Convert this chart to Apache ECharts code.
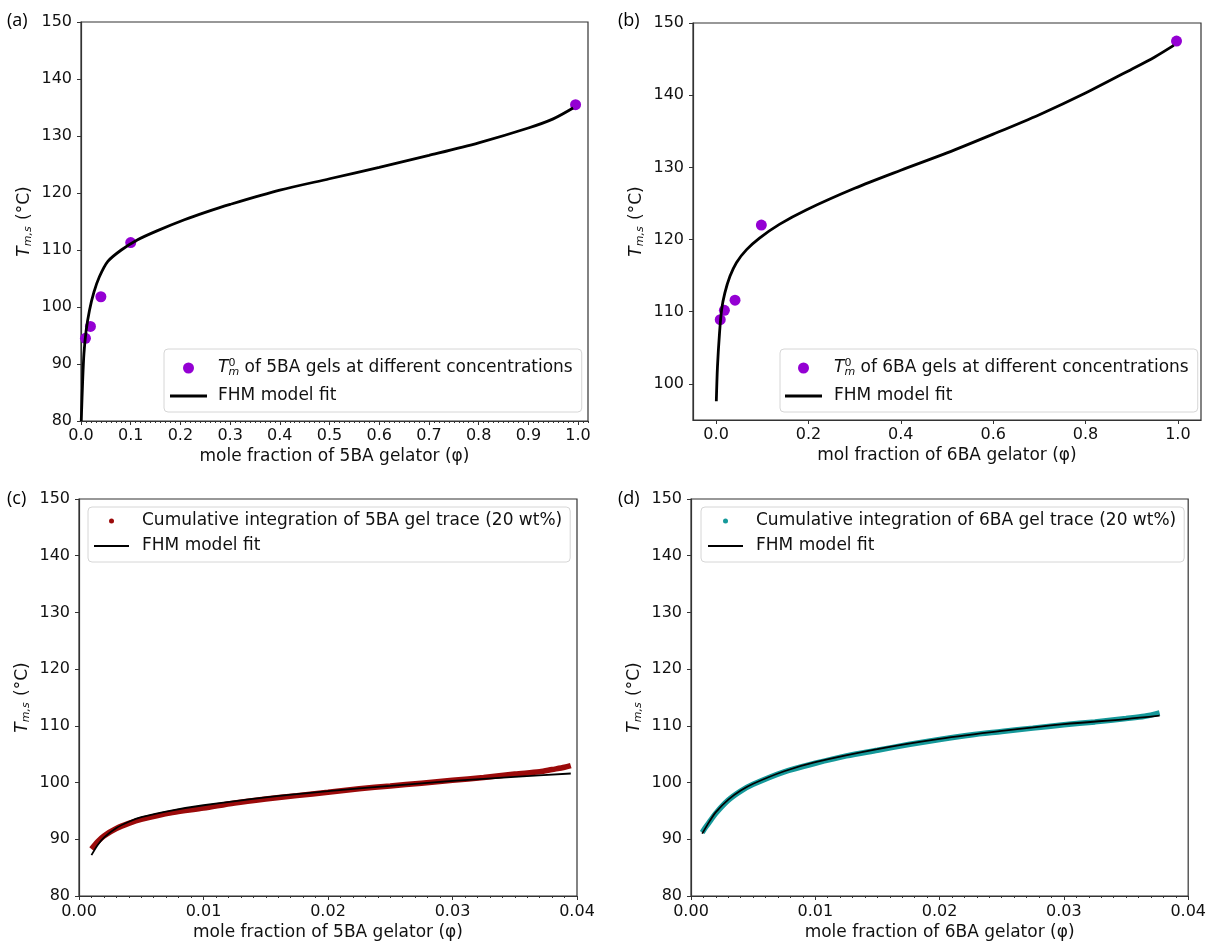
<!DOCTYPE html>
<html>
<head>
<meta charset="utf-8">
<script src="https://cdn.jsdelivr.net/npm/echarts@6/dist/echarts.min.js"></script>
<style>
html, body { margin: 0; padding: 0; background: #fff; }
#chart { width: 1209px; height: 942px; }
</style>
</head>
<body>
<div id="chart"></div>
<script>
// (a) 5BA gels, Tm0 points + FHM fit
var aPointX = [0.009, 0.019, 0.04, 0.1, 0.995];
var aPointY = [94.5, 96.6, 101.8, 111.3, 135.5];
var aFitX = [0.0005, 0.0034, 0.006, 0.0104, 0.017, 0.026, 0.037, 0.054, 0.081, 0.114, 0.154, 0.208, 0.25, 0.3, 0.4, 0.5, 0.6, 0.7, 0.8, 0.9, 0.95, 0.99];
var aFitY = [80.0, 87.2, 91.9, 95.9, 99.4, 102.6, 105.3, 108.0, 110.0, 111.8, 113.4, 115.3, 116.6, 118.0, 120.5, 122.5, 124.5, 126.6, 128.8, 131.4, 133.0, 134.9];

// (b) 6BA gels
var bPointX = [0.009, 0.018, 0.041, 0.098, 0.997];
var bPointY = [108.9, 110.2, 111.6, 122.0, 147.5];
var bFitX = [0.0005, 0.003, 0.0075, 0.012, 0.019, 0.03, 0.044, 0.066, 0.094, 0.137, 0.195, 0.3, 0.4, 0.5, 0.6, 0.7, 0.8, 0.9, 0.95, 0.991];
var bFitY = [97.6, 102.4, 107.1, 110.3, 112.6, 114.9, 116.8, 118.6, 120.2, 122.1, 124.1, 127.1, 129.6, 132.0, 134.6, 137.3, 140.3, 143.6, 145.3, 146.9];

// (c) 5BA gel trace, cumulative integration + fit
var cTraceX = [0.001, 0.0015, 0.002, 0.003, 0.004, 0.005, 0.0075, 0.01, 0.0125, 0.015, 0.0175, 0.02, 0.0225, 0.025, 0.0275, 0.03, 0.0325, 0.035, 0.037, 0.038, 0.039, 0.0395];
var cTraceY = [88.3, 89.6, 90.6, 91.9, 92.8, 93.5, 94.7, 95.5, 96.4, 97.1, 97.7, 98.3, 98.9, 99.4, 99.9, 100.4, 100.9, 101.5, 101.9, 102.3, 102.7, 103.0];
var cFitX = [0.001, 0.0015, 0.002, 0.003, 0.004, 0.005, 0.0075, 0.01, 0.015, 0.02, 0.025, 0.03, 0.035, 0.0395];
var cFitY = [87.2, 89.0, 90.3, 92.0, 93.1, 93.9, 95.1, 96.0, 97.4, 98.5, 99.4, 100.3, 101.0, 101.6];

// (d) 6BA gel trace
var dTraceX = [0.0009, 0.0012, 0.0015, 0.002, 0.003, 0.004, 0.005, 0.0075, 0.01, 0.0125, 0.015, 0.0175, 0.02, 0.0225, 0.025, 0.0275, 0.03, 0.0325, 0.035, 0.0365, 0.0377];
var dTraceY = [91.2, 92.2, 93.1, 94.6, 96.9, 98.5, 99.7, 101.9, 103.4, 104.7, 105.7, 106.7, 107.6, 108.4, 109.0, 109.6, 110.2, 110.7, 111.3, 111.7, 112.3];
var dFitX = [0.0009, 0.0015, 0.002, 0.003, 0.004, 0.005, 0.0075, 0.01, 0.015, 0.02, 0.025, 0.03, 0.035, 0.0377];
var dFitY = [91.0, 93.2, 94.8, 97.0, 98.6, 99.8, 102.0, 103.6, 105.9, 107.7, 109.1, 110.3, 111.2, 111.8];

// tick labels
var bYTicks = [100, 110, 120, 130, 140, 150];
var aXTicks = [0, 0.1, 0.2, 0.3, 0.4, 0.5, 0.6, 0.7, 0.8, 0.9, 1.0];
var bXTicks = [0, 0.2, 0.4, 0.6, 0.8, 1.0];

var FONT = 'DejaVu Sans';
var AXC = '#333';

var aDotName = 'Tm0 of 5BA gels at different concentrations';
var bDotName = 'Tm0 of 6BA gels at different concentrations';
var cDotName = 'Cumulative integration of 5BA gel trace (20 wt%)';
var dDotName = 'Cumulative integration of 6BA gel trace (20 wt%)';
var fitName = 'FHM model fit';

function pairs(xs, ys) {
  return xs.map(function (x, i) { return [x, ys[i]]; });
}

var yNameRich = {
  it: { fontStyle: 'italic', fontSize: 17, fontFamily: FONT },
  sub: { fontStyle: 'italic', fontSize: 11, fontFamily: FONT, verticalAlign: 'bottom', padding: [7, 1, 0, 0] }
};
var legendRich = {
  it: { fontStyle: 'italic', fontSize: 17, fontFamily: FONT, lineHeight: 20 },
  sup: { fontSize: 11, fontFamily: FONT, verticalAlign: 'top', width: 0, padding: [0, 0, 8, 0] },
  sub: { fontStyle: 'italic', fontSize: 11, fontFamily: FONT, verticalAlign: 'bottom', padding: [8, 0, 0, 0] }
};

function xAx(grid, min, max, opts) {
  var ax = {
    type: 'value', gridIndex: grid, min: min, max: max,
    axisLine: { show: true, onZero: false, lineStyle: { color: AXC, width: 1.2 } },
    axisTick: { show: true, inside: false, length: 4, lineStyle: { color: AXC } },
    axisLabel: { color: '#111', fontSize: 16, fontFamily: FONT, margin: opts.margin },
    splitLine: { show: false },
    name: opts.name, nameLocation: 'middle', nameGap: opts.nameGap,
    nameTextStyle: { color: '#111', fontSize: 17, fontFamily: FONT }
  };
  if (opts.interval) ax.interval = opts.interval;
  if (opts.ticks) {
    ax.axisLabel.customValues = opts.ticks;
    ax.axisTick.customValues = opts.ticks;
  }
  ax.axisLabel.formatter = function (v) { return v.toFixed(opts.digits); };
  if (opts.minor) ax.minorTick = { show: true, splitNumber: 10, length: 2, lineStyle: { color: AXC } };
  return ax;
}

function yAx(grid, min, max, ticks) {
  var ax = {
    type: 'value', gridIndex: grid, min: min, max: max,
    axisLine: { show: true, onZero: false, lineStyle: { color: AXC, width: 1.2 } },
    axisTick: { show: true, inside: false, length: 4, lineStyle: { color: AXC } },
    axisLabel: { color: '#111', fontSize: 16, fontFamily: FONT, margin: 9 },
    splitLine: { show: false },
    name: '{it|T}{sub|m,s} (°C)', nameLocation: 'middle', nameGap: 47,
    nameTextStyle: { color: '#111', fontSize: 17, fontFamily: FONT, rich: yNameRich }
  };
  if (ticks) {
    ax.axisLabel.customValues = ticks;
    ax.axisTick.customValues = ticks;
  } else {
    ax.interval = 10;
  }
  return ax;
}

function legendBox(left, top, pad, itemW, itemH, gap, dotName, richText, lineH, textPad) {
  return {
    orient: 'vertical', left: left, top: top, padding: pad,
    itemWidth: itemW, itemHeight: itemH, itemGap: gap,
    backgroundColor: 'rgba(255,255,255,0.85)', borderColor: '#d6d6d6', borderWidth: 1, borderRadius: 4,
    selectedMode: false,
    data: [
      { name: dotName, icon: 'circle' },
      { name: fitName, icon: 'path://M0,0h' + itemW + 'v' + lineH + 'h-' + itemW + 'z' }
    ],
    formatter: function (n) { return n === dotName && richText ? richText : n; },
    textStyle: { color: '#111', fontSize: 17, fontFamily: FONT, lineHeight: 20, padding: [0, 0, 0, textPad], rich: legendRich }
  };
}

function fitLine(name, xi, yi, xs, ys, color, width, z) {
  return {
    name: name, type: 'line', xAxisIndex: xi, yAxisIndex: yi, symbol: 'none', smooth: 0.3,
    lineStyle: { color: color, width: width }, itemStyle: { color: color }, data: pairs(xs, ys), z: z
  };
}

var chart = echarts.init(document.getElementById('chart'));
var option = {
  animation: false,
  backgroundColor: '#fff',
  grid: [
    { left: 81, top: 22, width: 507, height: 399, show: true, borderColor: AXC, borderWidth: 1.2 },
    { left: 693, top: 23, width: 508, height: 397, show: true, borderColor: AXC, borderWidth: 1.2 },
    { left: 79, top: 499, width: 498, height: 397, show: true, borderColor: AXC, borderWidth: 1.2 },
    { left: 691, top: 499, width: 499, height: 397, show: true, borderColor: AXC, borderWidth: 1.2 }
  ],
  xAxis: [
    xAx(0, 0, 1.02, { name: 'mole fraction of 5BA gelator (φ)', nameGap: 27, margin: 7, ticks: aXTicks, digits: 1 }),
    // minor ticks of panel (a)
    { type: 'value', gridIndex: 0, min: 0, max: 1.02, interval: 0.01, position: 'bottom',
      axisLine: { show: false }, axisLabel: { show: false }, splitLine: { show: false },
      axisTick: { show: true, length: 2, lineStyle: { color: AXC } } },
    xAx(1, -0.05, 1.05, { name: 'mol fraction of 6BA gelator (φ)', nameGap: 27, margin: 7, ticks: bXTicks, digits: 1 }),
    xAx(2, 0, 0.04, { name: 'mole fraction of 5BA gelator (φ)', nameGap: 28, margin: 8, interval: 0.01, digits: 2, minor: true }),
    xAx(3, 0, 0.04, { name: 'mole fraction of 6BA gelator (φ)', nameGap: 28, margin: 8, interval: 0.01, digits: 2, minor: true })
  ],
  yAxis: [
    yAx(0, 80, 150),
    yAx(1, 95, 150, bYTicks),
    yAx(2, 80, 150),
    yAx(3, 80, 150)
  ],
  legend: [
    legendBox(164, 349, [9, 9, 6, 6], 37, 11, 8, aDotName, '{it|T}{sup|0}{sub|m} of 5BA gels at different concentrations', 3, 6),
    legendBox(780, 349, [9, 9, 6, 5], 37, 11, 8, bDotName, '{it|T}{sup|0}{sub|m} of 6BA gels at different concentrations', 3, 7),
    legendBox(88, 507, [4, 8, 6, 6], 35, 5, 5, cDotName, null, 2, 8),
    legendBox(701, 507, [4, 8, 6, 7], 35, 5, 5, dDotName, null, 2, 8)
  ],
  graphic: [
    { type: 'text', left: 7, top: 12, style: { text: '(a)', fontSize: 18, fontFamily: 'Open Sans', fill: '#000' } },
    { type: 'text', left: 618, top: 12, style: { text: '(b)', fontSize: 18, fontFamily: 'Open Sans', fill: '#000' } },
    { type: 'text', left: 7, top: 490, style: { text: '(c)', fontSize: 18, fontFamily: 'Open Sans', fill: '#000' } },
    { type: 'text', left: 618, top: 490, style: { text: '(d)', fontSize: 18, fontFamily: 'Open Sans', fill: '#000' } }
  ],
  series: [
    { name: aDotName, type: 'scatter', xAxisIndex: 0, yAxisIndex: 0, symbolSize: 11,
      itemStyle: { color: '#9400d3', opacity: 1 }, data: pairs(aPointX, aPointY), z: 2 },
    fitLine(fitName, 0, 0, aFitX, aFitY, '#000', 2.8, 3),

    { name: bDotName, type: 'scatter', xAxisIndex: 2, yAxisIndex: 1, symbolSize: 11,
      itemStyle: { color: '#9400d3', opacity: 1 }, data: pairs(bPointX, bPointY), z: 2 },
    fitLine(fitName, 2, 1, bFitX, bFitY, '#000', 2.8, 3),

    // the dense dot trace is drawn as a thick band of the dot colour
    fitLine(cDotName, 3, 2, cTraceX, cTraceY, '#9b0a0a', 5.5, 2),
    fitLine(fitName, 3, 2, cFitX, cFitY, '#000', 1.8, 3),

    fitLine(dDotName, 4, 3, dTraceX, dTraceY, '#15999a', 5.5, 2),
    fitLine(fitName, 4, 3, dFitX, dFitY, '#000', 1.8, 3)
  ]
};
chart.setOption(option);
</script>
</body>
</html>
